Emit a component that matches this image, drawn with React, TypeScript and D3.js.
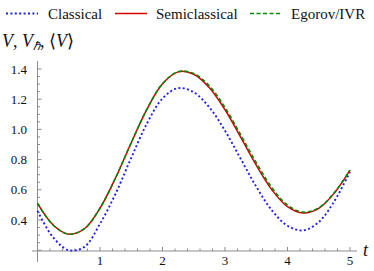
import React, { useRef, useEffect } from "react";
import * as d3 from "d3";

// sampled time points
const times = [
  0, 0.25, 0.5, 0.75, 1, 1.25, 1.5, 1.75, 2, 2.25, 2.5, 2.75, 3, 3.25, 3.5,
  3.75, 4, 4.25, 4.5, 4.75, 5,
];

const classical = [
  0.46, 0.285, 0.2, 0.222, 0.375, 0.575, 0.812, 1.038, 1.205, 1.273, 1.246,
  1.146, 0.991, 0.806, 0.621, 0.464, 0.362, 0.331, 0.386, 0.525, 0.72,
];

const semiclassical = [
  0.51, 0.367, 0.306, 0.342, 0.478, 0.68, 0.912, 1.133, 1.302, 1.381, 1.365,
  1.276, 1.13, 0.949, 0.763, 0.6, 0.488, 0.446, 0.477, 0.579, 0.73,
];

const egorov = [
  0.51, 0.367, 0.306, 0.342, 0.478, 0.68, 0.912, 1.133, 1.302, 1.382, 1.37,
  1.287, 1.145, 0.965, 0.78, 0.615, 0.498, 0.452, 0.481, 0.581, 0.73,
];

const legendNames = ["Classical", "Semiclassical", "Egorov/IVR"];
const xTickValues = [1, 2, 3, 4, 5];
const yTickValues = [0.4, 0.6, 0.8, 1.0, 1.2, 1.4];

const W = 374;
const H = 271;

const Chart = () => {
  const ref = useRef<SVGSVGElement | null>(null);

  useEffect(() => {
    if (!ref.current) return;
    const svg = d3.select(ref.current);
    svg.selectAll("*").remove();

    const x = d3.scaleLinear().domain([0, 5]).range([37.5, 350]);
    const y = d3.scaleLinear().domain([0.4, 1.4]).range([220, 69]);
    const axisY = 251;
    const axisCol = "#8c8c8c";
    const font = "Liberation Serif";

    // axes
    svg.append("line")
      .attr("x1", 32).attr("x2", 357)
      .attr("y1", axisY).attr("y2", axisY)
      .attr("stroke", axisCol).attr("stroke-width", 1);
    svg.append("line")
      .attr("x1", x(0)).attr("x2", x(0))
      .attr("y1", 61).attr("y2", 262)
      .attr("stroke", axisCol).attr("stroke-width", 1);

    // x ticks
    const xMinor = d3.range(0.2, 5.01, 0.2);
    svg.append("g").selectAll("line")
      .data(xMinor)
      .enter()
      .append("line")
      .attr("x1", (d) => x(d)).attr("x2", (d) => x(d))
      .attr("y1", axisY)
      .attr("y2", (d) => axisY - (Math.abs(d - Math.round(d)) < 1e-6 ? 4 : 2.5))
      .attr("stroke", axisCol);
    svg.append("g").selectAll("text")
      .data(xTickValues)
      .enter()
      .append("text")
      .attr("x", (d) => x(d))
      .attr("y", 265)
      .attr("text-anchor", "middle")
      .style("font-family", font)
      .style("font-size", "13px")
      .attr("fill", "#111")
      .text((d) => d3.format("d")(d));

    // y ticks
    const yMinor = d3.range(0.2, 1.4301, 0.05).filter((v) => y(v) <= axisY);
    svg.append("g").selectAll("line")
      .data(yMinor)
      .enter()
      .append("line")
      .attr("x1", x(0))
      .attr("x2", (d) => x(0) + (Math.abs(d * 5 - Math.round(d * 5)) < 1e-6 ? 4 : 2.5))
      .attr("y1", (d) => y(d)).attr("y2", (d) => y(d))
      .attr("stroke", axisCol);
    svg.append("g").selectAll("text")
      .data(yTickValues)
      .enter()
      .append("text")
      .attr("x", 27)
      .attr("y", (d) => y(d) + 4.5)
      .attr("text-anchor", "end")
      .style("font-family", font)
      .style("font-size", "13px")
      .attr("fill", "#111")
      .text((d) => d3.format(".1f")(d));

    // curves
    const line = d3
      .line<number>()
      .x((_, i) => x(times[i]))
      .y((d) => y(d))
      .curve(d3.curveCatmullRom.alpha(0.5));

    const series = [
      { values: classical, color: "#1f1fe6", dash: "2,2.4", width: 1.9 },
      { values: semiclassical, color: "#d40000", dash: null, width: 1.5 },
      { values: egorov, color: "#008a00", dash: "4,2.5", width: 1.6 },
    ];

    series.forEach((s) => {
      svg.append("path")
        .attr("d", line(s.values))
        .attr("fill", "none")
        .attr("stroke", s.color)
        .attr("stroke-width", s.width)
        .attr("stroke-dasharray", s.dash);
    });

    // legend
    const legendX = [
      [6, 38, 48],
      [115, 147, 156],
      [250, 280, 291],
    ];
    series.forEach((s, i) => {
      const [a, b, t] = legendX[i];
      svg.append("line")
        .attr("x1", a).attr("x2", b)
        .attr("y1", 13.5).attr("y2", 13.5)
        .attr("stroke", s.color)
        .attr("stroke-width", s.width)
        .attr("stroke-dasharray", s.dash);
      svg.append("text")
        .attr("x", t)
        .attr("y", 18.5)
        .style("font-family", font)
        .style("font-size", "15px")
        .attr("fill", "#111")
        .text(legendNames[i]);
    });

    // axis labels
    const yl = svg.append("text")
      .attr("x", 2)
      .attr("y", 47)
      .style("font-family", font)
      .style("font-size", "18px")
      .attr("fill", "#111");
    yl.append("tspan").style("font-style", "italic").text("V");
    yl.append("tspan").text(", ");
    yl.append("tspan").style("font-style", "italic").text("V");
    yl.append("tspan")
      .style("font-style", "italic")
      .style("font-size", "12px")
      .attr("dy", 3)
      .text("ℏ");
    yl.append("tspan").attr("dy", -3).text(", ⟨");
    yl.append("tspan").style("font-style", "italic").text("V");
    yl.append("tspan").text("⟩");

    svg.append("text")
      .attr("x", 363)
      .attr("y", 256)
      .style("font-family", font)
      .style("font-size", "18px")
      .style("font-style", "italic")
      .attr("fill", "#111")
      .text("t");
  }, []);

  return (
    <svg
      ref={ref}
      width={W}
      height={H}
      style={{ position: "absolute", left: 0, top: 0, background: "#fff" }}
    />
  );
};

export default function App() {
  return <Chart />;
}
